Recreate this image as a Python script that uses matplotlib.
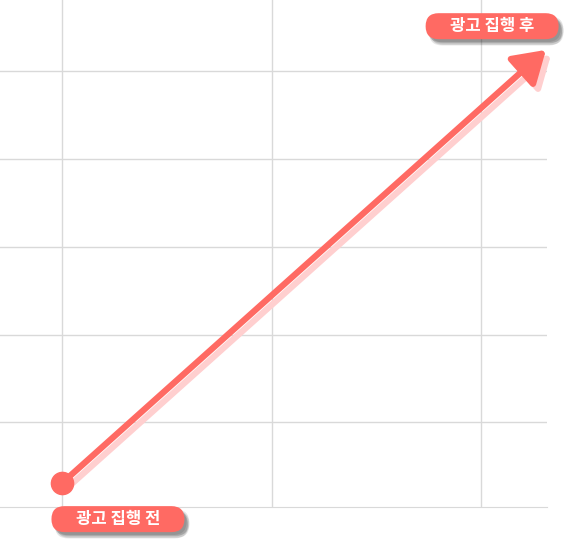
import matplotlib
matplotlib.use("Agg")
import matplotlib.pyplot as plt
import matplotlib.patheffects as pe
import matplotlib.transforms as mtransforms
from matplotlib.patches import FancyArrowPatch, FancyBboxPatch

plt.rcParams['font.family'] = ['Noto Sans CJK KR', 'DejaVu Sans']

# data
x_ticks = [0, 1, 2]
y_ticks = [1, 2, 3, 4, 5]
start = (0.0, 0.31)
end = (2.31, 5.24)
labels = ['광고 집행 전', '광고 집행 후']
label_pos = [(0.267, -0.10), (2.053, 5.51)]

RED = '#ff6a63'
PINK = '#ffcfcf'
GRID = '#d9d9d9'

fig = plt.figure(figsize=(5.72, 5.47), dpi=100)
ax = fig.add_axes([0, 40 / 547, 547 / 572, 507 / 547])
ax.set_xlim(-0.296, 2.315)
ax.set_ylim(0.038, 5.808)
for s in ax.spines.values():
    s.set_visible(False)
ax.spines['bottom'].set_visible(True)
ax.spines['bottom'].set_color(GRID)
ax.set_xticks(x_ticks)
ax.set_yticks(y_ticks)
ax.tick_params(length=0, labelbottom=False, labelleft=False)
ax.grid(True, color=GRID, lw=1)
ax.set_axisbelow(True)

# shadow of the arrow, shifted a few pixels down-right
shadow_tr = mtransforms.offset_copy(ax.transData, fig=fig, x=5, y=-5, units='dots')
for tr, col, z in [(shadow_tr, PINK, 2), (ax.transData, RED, 3)]:
    arr = FancyArrowPatch(start, end, transform=tr,
                          arrowstyle='-|>,head_length=0.95,head_width=0.6',
                          mutation_scale=20, lw=4.5, color=col,
                          shrinkA=0, shrinkB=0, zorder=z, clip_on=False)
    ax.add_patch(arr)

ax.plot(*start, 'o', ms=16, color=RED, zorder=4, clip_on=False)

# soft shadow: a few faint offset copies
blur = [pe.SimplePatchShadow(offset=(dx, dy), shadow_rgbFace='#222222', alpha=0.12)
        for dx, dy in [(1.5, -2), (2.5, -3), (3.5, -4), (2.5, -4.5), (3.5, -2.5)]]

# pill labels
for txt, (lx, ly) in zip(labels, label_pos):
    tr = fig.dpi_scale_trans + mtransforms.ScaledTranslation(lx, ly, ax.transData)
    box = FancyBboxPatch((-0.665, -0.13), 1.33, 0.26, transform=tr,
                         boxstyle='round,pad=0,rounding_size=0.13',
                         fc=RED, ec='none', zorder=5, clip_on=False)
    box.set_path_effects(blur + [pe.Normal()])
    ax.add_patch(box)
    ax.text(lx, ly, txt, ha='center', va='center', color='white',
            fontsize=12, fontweight='bold', zorder=6, clip_on=False)

fig.savefig('out.png', dpi=100)
